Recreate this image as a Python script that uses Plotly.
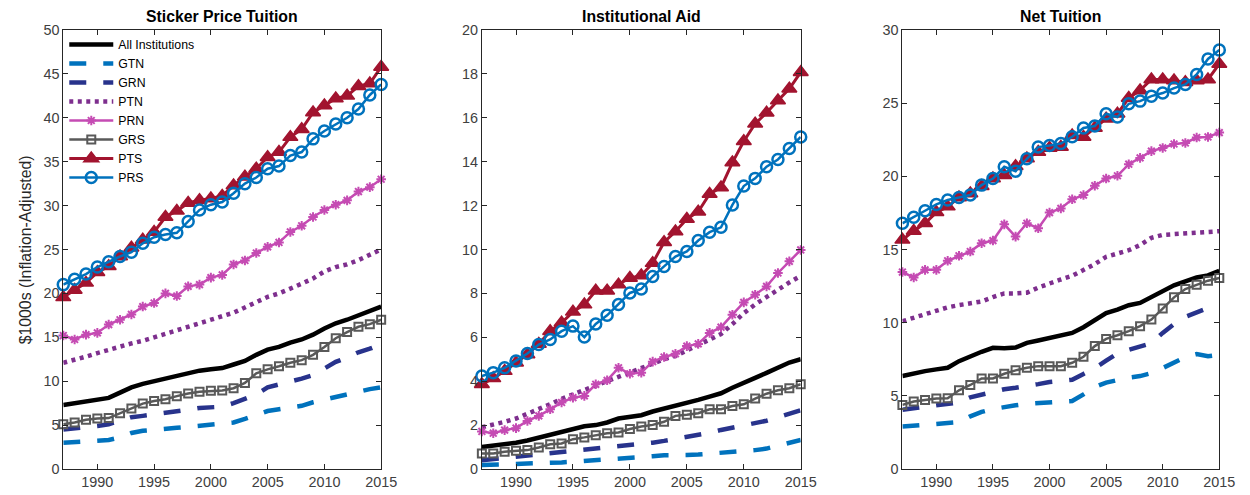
import plotly.graph_objects as go

YEARS = list(range(1987, 2016))
SERIES = ["All Institutions", "GTN", "GRN", "PTN", "PRN", "GRS", "PTS", "PRS"]
PANEL_TITLES = ["Sticker Price Tuition", "Institutional Aid", "Net Tuition"]
Y_LABEL = "$1000s (Inflation-Adjusted)"
X_TICKS = [1990, 1995, 2000, 2005, 2010, 2015]
Y_TICKS_1 = [0, 5, 10, 15, 20, 25, 30, 35, 40, 45, 50]
Y_TICKS_2 = [0, 2, 4, 6, 8, 10, 12, 14, 16, 18, 20]
Y_TICKS_3 = [0, 5, 10, 15, 20, 25, 30]

# Panel 1: Sticker Price Tuition
st_all = [7.3, 7.5, 7.7, 7.9, 8.1, 8.7, 9.3, 9.7, 10.0, 10.2, 10.5, 10.9, 11.2, 11.35, 11.5,
          11.9, 12.3, 13.0, 13.6, 13.9, 14.4, 14.75, 15.3, 16.0, 16.6, 17.0, 17.5, 17.9, 18.5]
st_gtn = [3.0, 3.05, 3.1, 3.2, 3.3, 3.6, 4.1, 4.35, 4.5, 4.65, 4.7, 4.8, 4.9, 5.0, 5.1,
          5.3, 5.7, 6.2, 6.6, 6.8, 7.0, 7.2, 7.6, 7.9, 8.3, 8.6, 8.8, 9.1, 9.3]
st_grn = [4.5, 4.6, 4.75, 4.9, 5.1, 5.5, 5.9, 6.05, 6.2, 6.4, 6.55, 6.75, 6.95, 7.05, 7.1,
          7.5, 8.0, 8.5, 9.3, 9.6, 9.9, 10.3, 10.7, 11.5, 12.2, 12.7, 13.3, 13.7, 14.2]
st_ptn = [12.1, 12.4, 12.8, 13.2, 13.6, 14.0, 14.3, 14.6, 15.0, 15.5, 15.9, 16.2, 16.7, 17.1, 17.4,
          17.8, 18.4, 19.0, 19.6, 20.0, 20.5, 21.1, 21.7, 22.5, 23.0, 23.3, 23.8, 24.4, 25.0]
st_prn = [15.2, 14.75, 15.3, 15.5, 16.45, 17.0, 17.6, 18.5, 18.9, 20.0, 19.7, 20.8, 21.0, 21.8, 22.1,
          23.3, 23.75, 24.6, 25.3, 25.8, 27.0, 27.7, 28.7, 29.5, 30.1, 30.6, 31.6, 32.1, 33.0]
st_grs = [5.1, 5.3, 5.6, 5.75, 5.8, 6.35, 6.9, 7.45, 7.75, 7.95, 8.3, 8.6, 8.8, 8.9, 8.95,
          9.2, 9.8, 10.9, 11.35, 11.7, 12.1, 12.4, 13.0, 13.9, 14.9, 15.6, 16.2, 16.5, 17.0]
st_pts = [19.55, 20.4, 21.2, 22.4, 23.1, 24.2, 25.2, 26.1, 27.0, 28.7, 29.4, 30.3, 30.6, 30.8, 31.1,
          32.3, 33.3, 34.2, 35.5, 36.1, 37.8, 38.7, 40.6, 41.4, 42.2, 42.5, 43.6, 43.9, 45.8]
st_prs = [21.0, 21.6, 22.2, 23.0, 23.6, 24.2, 24.7, 25.7, 26.4, 26.7, 26.9, 28.2, 29.5, 30.1, 30.4,
          31.4, 32.5, 33.2, 34.2, 34.5, 35.7, 36.1, 37.6, 38.5, 39.3, 40.0, 41.0, 42.6, 43.8]

# Panel 2: Institutional Aid
ia_all = [1.0, 1.05, 1.12, 1.2, 1.3, 1.42, 1.55, 1.68, 1.82, 1.95, 2.0, 2.12, 2.3, 2.38, 2.45,
          2.62, 2.75, 2.85, 3.0, 3.15, 3.3, 3.45, 3.7, 3.95, 4.15, 4.38, 4.6, 4.85, 5.0]
ia_gtn = [0.18, 0.19, 0.2, 0.22, 0.24, 0.26, 0.28, 0.3, 0.33, 0.36, 0.38, 0.41, 0.44, 0.47, 0.52,
          0.58, 0.63, 0.62, 0.64, 0.66, 0.69, 0.72, 0.76, 0.8, 0.86, 0.93, 1.05, 1.18, 1.32]
ia_grn = [0.4, 0.45, 0.5, 0.55, 0.6, 0.67, 0.73, 0.78, 0.82, 0.87, 0.92, 0.97, 1.02, 1.07, 1.12,
          1.2, 1.28, 1.36, 1.45, 1.55, 1.65, 1.78, 1.88, 1.98, 2.08, 2.2, 2.35, 2.5, 2.68]
ia_ptn = [1.9, 2.0, 2.15, 2.3, 2.5, 2.7, 2.95, 3.2, 3.4, 3.6, 3.8, 4.0, 4.25, 4.45, 4.6,
          4.85, 5.0, 5.15, 5.4, 5.6, 5.85, 6.15, 6.6, 7.1, 7.5, 7.85, 8.2, 8.5, 8.8]
ia_prn = [1.71, 1.63, 1.77, 1.86, 2.19, 2.42, 2.72, 3.03, 3.25, 3.33, 3.86, 4.04, 4.61, 4.34, 4.39,
          4.89, 5.10, 5.25, 5.60, 5.70, 6.20, 6.46, 7.03, 7.59, 7.94, 8.32, 8.93, 9.46, 9.98]
ia_grs = [0.71, 0.71, 0.79, 0.83, 0.86, 0.98, 1.13, 1.16, 1.36, 1.44, 1.54, 1.63, 1.66, 1.82, 1.94,
          2.01, 2.15, 2.42, 2.47, 2.54, 2.72, 2.72, 2.87, 2.95, 3.21, 3.43, 3.59, 3.68, 3.86]
ia_pts = [3.86, 4.13, 4.46, 4.84, 5.22, 5.70, 6.28, 6.66, 7.16, 7.49, 8.12, 8.12, 8.40, 8.70, 8.82,
          9.38, 10.33, 10.82, 11.39, 11.72, 12.53, 12.83, 13.96, 14.93, 15.73, 16.23, 16.79, 17.32, 18.08]
ia_prs = [4.24, 4.39, 4.61, 4.92, 5.26, 5.67, 5.90, 6.28, 6.51, 6.01, 6.61, 7.00, 7.49, 8.02, 8.20,
          8.77, 9.23, 9.68, 9.91, 10.41, 10.79, 11.01, 12.03, 12.89, 13.24, 13.77, 14.10, 14.60, 15.13]

# Panel 3: Net Tuition
nt_all = [6.35, 6.53, 6.69, 6.81, 6.92, 7.37, 7.72, 8.01, 8.28, 8.25, 8.3, 8.62, 8.78, 8.96, 9.08,
          9.3, 9.69, 10.21, 10.66, 10.89, 11.19, 11.35, 11.73, 12.14, 12.55, 12.82, 13.09, 13.23, 13.55]
nt_gtn = [2.9, 2.95, 3.0, 3.05, 3.1, 3.2, 3.6, 3.9, 4.1, 4.25, 4.35, 4.45, 4.5, 4.55, 4.55,
          4.65, 5.1, 5.6, 5.9, 6.1, 6.25, 6.35, 6.55, 6.9, 7.3, 7.65, 7.85, 7.7, 7.8]
nt_grn = [4.05, 4.15, 4.25, 4.35, 4.4, 4.55, 4.9, 5.1, 5.3, 5.45, 5.55, 5.65, 5.8, 5.95, 6.0,
          6.1, 6.5, 6.9, 7.4, 7.9, 8.15, 8.4, 8.6, 9.3, 9.9, 10.4, 10.7, 11.0, 11.2]
nt_ptn = [10.1, 10.35, 10.6, 10.85, 11.05, 11.2, 11.3, 11.45, 11.75, 12.0, 12.0, 12.05, 12.4, 12.7, 12.95,
          13.2, 13.6, 14.0, 14.5, 14.75, 14.95, 15.3, 15.8, 16.0, 16.05, 16.1, 16.15, 16.15, 16.25]
nt_prn = [13.46, 13.09, 13.61, 13.61, 14.23, 14.57, 14.86, 15.43, 15.61, 16.72, 15.88, 16.79, 16.45, 17.52, 17.81,
          18.43, 18.72, 19.36, 19.85, 20.04, 20.83, 21.26, 21.72, 21.94, 22.21, 22.28, 22.65, 22.69, 22.99]
nt_grs = [4.38, 4.61, 4.72, 4.81, 4.83, 5.38, 5.74, 6.19, 6.19, 6.51, 6.74, 6.92, 7.03, 7.03, 7.03,
          7.26, 7.67, 8.4, 8.89, 9.14, 9.42, 9.76, 10.21, 10.96, 11.73, 12.3, 12.59, 12.87, 13.05]
nt_pts = [15.66, 16.27, 16.79, 17.54, 17.93, 18.56, 18.83, 19.33, 19.85, 20.08, 20.69, 21.22, 21.67, 21.94, 22.01,
          22.8, 22.69, 23.3, 23.94, 24.28, 25.35, 25.87, 26.62, 26.62, 26.55, 26.43, 26.55, 26.62, 27.68]
nt_prs = [16.79, 17.2, 17.65, 18.08, 18.38, 18.56, 18.72, 19.4, 19.85, 20.65, 20.35, 21.2, 22.0, 22.1, 22.24,
          22.7, 23.3, 23.44, 24.28, 24.05, 24.96, 25.14, 25.48, 25.69, 26.03, 26.28, 26.96, 28.02, 28.64]

PANELS = [
    [st_all, st_gtn, st_grn, st_ptn, st_prn, st_grs, st_pts, st_prs],
    [ia_all, ia_gtn, ia_grn, ia_ptn, ia_prn, ia_grs, ia_pts, ia_prs],
    [nt_all, nt_gtn, nt_grn, nt_ptn, nt_prn, nt_grs, nt_pts, nt_prs],
]

STYLES = {
    "All Institutions": dict(mode="lines", line=dict(color="#000000", width=4.5)),
    "GTN": dict(mode="lines", line=dict(color="#0072BD", width=4.5, dash="17px,17px")),
    "GRN": dict(mode="lines", line=dict(color="#28338C", width=4.5, dash="17px,17px")),
    "PTN": dict(mode="lines", line=dict(color="#7E2F8E", width=4.5, dash="4px,4.5px")),
    "PRN": dict(mode="lines+markers", line=dict(color="#C54BB3", width=2.5),
                marker=dict(symbol="asterisk-open", size=8, color="#C54BB3",
                            line=dict(color="#C54BB3", width=2))),
    "GRS": dict(mode="lines+markers", line=dict(color="#595959", width=2.5),
                marker=dict(symbol="square-open", size=8, color="#595959",
                            line=dict(color="#595959", width=2))),
    "PTS": dict(mode="lines+markers", line=dict(color="#A2142F", width=3),
                marker=dict(symbol="triangle-up", size=13, color="#A2142F",
                            line=dict(color="#A2142F", width=1.5))),
    "PRS": dict(mode="lines+markers", line=dict(color="#0072BD", width=2.5),
                marker=dict(symbol="circle-open", size=11, color="#0072BD",
                            line=dict(color="#0072BD", width=2.5))),
}

fig = go.Figure()
for p, panel in enumerate(PANELS):
    for name, vals in zip(SERIES, panel):
        fig.add_trace(go.Scatter(
            x=YEARS, y=vals, name=name, showlegend=(p == 0),
            xaxis="x" if p == 0 else f"x{p+1}", yaxis="y" if p == 0 else f"y{p+1}",
            cliponaxis=False, **STYLES[name]))

# the page adds an 8px offset at the top; the figure height is reduced to fit the window
OFF_Y = 8
W, H = 1250, 495 - OFF_Y
PLOT_TOP, PLOT_BOTTOM = 30 - OFF_Y, 469 - OFF_Y
px_domains = [(56, 378), (480, 803), (906, 1227)]
domains = [[a / W, b / W] for a, b in px_domains]
yranges = [[0, 50], [0, 20], [0, 30]]
yticks = [Y_TICKS_1, Y_TICKS_2, Y_TICKS_3]
FONT = "Liberation Sans, Arial, sans-serif"
tickfont = dict(family=FONT, size=14.4, color="#404040")
axcommon = dict(showline=True, linecolor="#262626", linewidth=1, mirror="ticks",
                ticks="inside", ticklen=5, tickcolor="#262626", showgrid=False,
                zeroline=False, tickfont=tickfont)

layout = dict(
    width=W, height=H, margin=dict(l=0, r=0, t=PLOT_TOP, b=H - PLOT_BOTTOM),
    paper_bgcolor="white", plot_bgcolor="white",
    showlegend=True,
    legend=dict(x=57 / W, y=1.0, xanchor="left", yanchor="top",
                bgcolor="rgba(0,0,0,0)", tracegroupgap=0, itemwidth=44,
                font=dict(family=FONT, size=12.3, color="#000000")),
)
annotations = []
for i in range(3):
    sx = "" if i == 0 else str(i + 1)
    layout["xaxis" + sx] = dict(domain=domains[i], range=[1987, 2015], tickvals=X_TICKS,
                                anchor="y" + sx, **axcommon)
    layout["yaxis" + sx] = dict(domain=[0, 1], range=yranges[i], tickvals=yticks[i],
                                anchor="x" + sx, **axcommon)
    annotations.append(dict(text="<b>" + PANEL_TITLES[i] + "</b>", xref="paper", yref="paper",
                            x=(domains[i][0] + domains[i][1]) / 2, y=1, yanchor="bottom",
                            xanchor="center", yshift=3, showarrow=False,
                            font=dict(family=FONT, size=15.8, color="#000000")))
annotations.append(dict(text=Y_LABEL, xref="paper", yref="paper", x=18 / W, y=0.5,
                        xanchor="center", yanchor="middle", textangle=-90, showarrow=False,
                        font=dict(family=FONT, size=15.8, color="#262626")))
layout["annotations"] = annotations
fig.update_layout(**layout)
fig.write_html("out.html")
